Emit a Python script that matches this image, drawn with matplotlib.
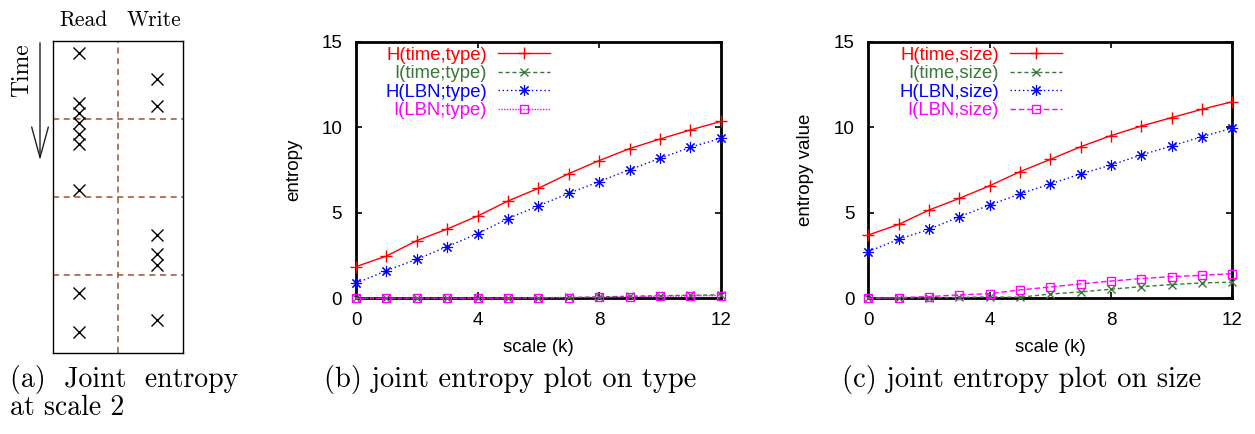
import matplotlib
matplotlib.use("Agg")
import matplotlib.pyplot as plt

plt.rcParams['font.family'] = ['Liberation Sans', 'DejaVu Sans']

# scale k
scales = list(range(13))

# (b) entropy on type
h_time_type = [1.85, 2.47, 3.37, 4.05, 4.81, 5.69, 6.43, 7.29, 8.05, 8.75, 9.31, 9.84, 10.34]
i_time_type = [0.0, 0.0, 0.0, 0.0, 0.0, 0.01, 0.03, 0.05, 0.08, 0.12, 0.15, 0.18, 0.20]
h_lbn_type = [0.88, 1.62, 2.28, 3.02, 3.78, 4.66, 5.40, 6.14, 6.82, 7.52, 8.18, 8.83, 9.35]
i_lbn_type = [0.0, 0.0, 0.0, 0.0, 0.0, 0.0, 0.02, 0.04, 0.06, 0.10, 0.12, 0.14, 0.16]

# (c) entropy on size
h_time_size = [3.70, 4.32, 5.16, 5.84, 6.58, 7.40, 8.12, 8.86, 9.51, 10.07, 10.56, 11.05, 11.49]
i_time_size = [0.0, 0.02, 0.03, 0.05, 0.08, 0.06, 0.25, 0.37, 0.53, 0.68, 0.80, 0.90, 0.94]
h_lbn_size = [2.73, 3.45, 4.03, 4.77, 5.45, 6.10, 6.68, 7.27, 7.79, 8.38, 8.90, 9.45, 9.94]
i_lbn_size = [0.0, 0.04, 0.10, 0.20, 0.27, 0.49, 0.66, 0.84, 1.01, 1.15, 1.27, 1.34, 1.44]

# (a) accesses at scale 2 (time goes down, 4 windows)
read_times = [0.16, 0.80, 0.93, 1.06, 1.19, 1.32, 1.91, 3.24, 3.73]
write_times = [0.49, 0.84, 2.49, 2.73, 2.88, 3.58]

RED = '#ff0000'
GREEN = '#3b783b'
BLUE = '#0000ff'
MAGENTA = '#ff00ff'
ASTERISK = (8, 2, 0)

fig = plt.figure(figsize=(12.55, 4.34), dpi=100)

# ---- panel (a)
axa = fig.add_axes([0.042, 0.1873, 0.1036, 0.7189])
axa.set_xlim(0, 2)
axa.set_ylim(4, 0)
axa.set_xticks([])
axa.set_yticks([])
for s in axa.spines.values():
    s.set_linewidth(1.0)
axa.axvline(1, color='#a0522d', ls=(0, (4, 3)), lw=1.1)
for t in [1, 2, 3]:
    axa.axhline(t, color='#a0522d', ls=(0, (4, 3)), lw=1.1)
axa.plot([0.4] * len(read_times), read_times, 'x', color='black', ms=9, mew=1.0)
axa.plot([1.6] * len(write_times), write_times, 'x', color='black', ms=9, mew=1.0)
serif = ['cmr10', 'DejaVu Serif']
fig.text(83 / 1255, 1 - 20 / 434, 'Read', family=serif, fontsize=15.5, ha='center', va='center')
fig.text(154 / 1255, 1 - 20 / 434, 'Write', family=serif, fontsize=15.5, ha='center', va='center')
fig.text(22 / 1255, 1 - 70 / 434, 'Time', family=serif, fontsize=17, rotation=90, ha='center', va='center')
fig.patches.append(matplotlib.patches.FancyArrowPatch(
    (40 / 1255, 1 - 40 / 434), (40 / 1255, 1 - 163 / 434), transform=fig.transFigure,
    arrowstyle='->,head_length=22,head_width=6', color='#222222', lw=1.0, mutation_scale=1))


def entropy_panel(ax, x, series, ylabel):
    styles = [
        dict(color=RED, ls='-', marker='+', ms=8, mew=1.0),
        dict(color=GREEN, ls=(0, (3, 2)), marker='x', ms=6, mew=1.0),
        dict(color=BLUE, ls=(0, (1, 2)), marker=ASTERISK, ms=8, mew=0.8),
    ]
    for (label, y, style) in zip(series[0], series[1], styles + [series[2]]):
        ax.plot(x, y, lw=1.0, label=label, clip_on=False, zorder=3, **style)
    ax.set_xlim(0, 12)
    ax.set_ylim(0, 15)
    ax.set_xticks([0, 4, 8, 12])
    ax.set_yticks([0, 5, 10, 15])
    ax.tick_params(direction='in', length=4, width=1.2, top=True, right=True,
                   labelsize=13.5, pad=10)
    for s in ax.spines.values():
        s.set_linewidth(2.0)
    ax.set_xlabel('scale (k)', fontsize=13.5, labelpad=7)
    ax.set_ylabel(ylabel, fontsize=13.5, labelpad=14)
    ax.legend(loc='upper right', bbox_to_anchor=(0.567, 1.03), markerfirst=False,
              frameon=False, labelcolor='linecolor', handlelength=2.8,
              borderpad=0.2, labelspacing=0.08, handletextpad=0.6, fontsize=13.3)


axb = fig.add_axes([0.2837, 0.3127, 0.2906, 0.5912])
entropy_panel(axb, scales,
              (['H(time,type)', 'I(time;type)', 'H(LBN;type)', 'I(LBN;type)'],
               [h_time_type, i_time_type, h_lbn_type, i_lbn_type],
               dict(color=MAGENTA, ls=(0, (1, 1)), marker='s', ms=6, mfc='none', mew=1.0)),
              'entropy')

axc = fig.add_axes([0.6919, 0.3127, 0.2900, 0.5912])
entropy_panel(axc, scales,
              (['H(time,size)', 'I(time,size)', 'H(LBN,size)', 'I(LBN,size)'],
               [h_time_size, i_time_size, h_lbn_size, i_lbn_size],
               dict(color=MAGENTA, ls=(0, (4, 2)), marker='s', ms=6, mfc='none', mew=1.0)),
              'entropy value')

# captions
fig.text(10 / 1255, 1 - 380 / 434, '(a)  Joint  entropy', family=serif, fontsize=20, ha='left', va='center')
fig.text(10 / 1255, 1 - 408 / 434, 'at scale 2', family=serif, fontsize=20, ha='left', va='center')
fig.text(510 / 1255, 1 - 380 / 434, '(b) joint entropy plot on type', family=serif, fontsize=20.5, ha='center', va='center')
fig.text(1022 / 1255, 1 - 380 / 434, '(c) joint entropy plot on size', family=serif, fontsize=20.5, ha='center', va='center')

fig.savefig('out.png', dpi=100)
